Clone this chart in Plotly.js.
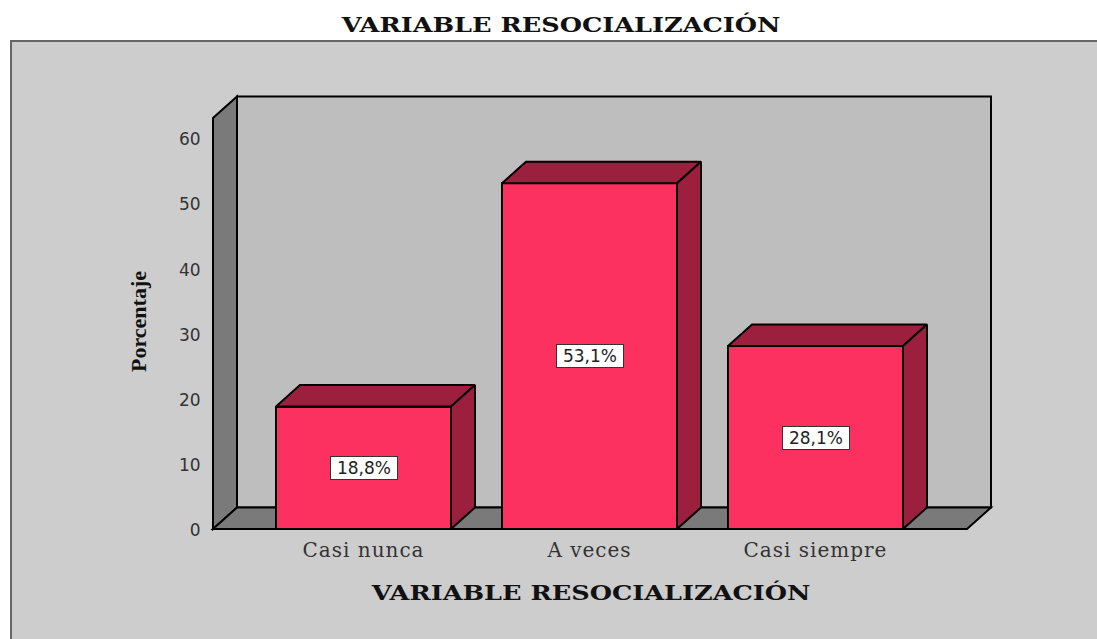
<!DOCTYPE html>
<html>
<head>
<meta charset="utf-8">
<script src="https://cdn.plot.ly/plotly-3.0.1.min.js"></script>
<style>
html,body{margin:0;padding:0;background:#fff;overflow:hidden}
#chart{width:1097px;height:639px}
.gtitle{transform-box:fill-box;transform-origin:center;transform:scaleX(1.218)}
.xtitle{transform-box:fill-box;transform-origin:center;transform:translateX(-11px) scaleX(1.218)}
.ytitle{translate:0 10px}
.xtick text{letter-spacing:1px}
.ytick text{translate:0 1px}
</style>
</head>
<body>
<div id="chart"></div>
<script>
const categories = ["Casi nunca", "A veces", "Casi siempre"];
const values = [18.8, 53.1, 28.1];
const valueLabels = ["18,8%", "53,1%", "28,1%"];
const yTicks = [0, 10, 20, 30, 40, 50, 60];
const chartTitle = "VARIABLE RESOCIALIZACIÓN";
const yTitle = "Porcentaje";

// Scale of the 3D frame
const W = 1097, H = 639;
const unitX = 226, unitY = 6.51, x0Px = 363.5, y0Px = 529;
const depthX = 24 / unitX, depthY = 21.5 / unitY;
const barW = 175 / unitX, halfW = barW / 2;
const wallL = (213 - x0Px) / unitX, wallR = (967 - x0Px) / unitX, wallTop = (529 - 118) / unitY;
const plotL = 208, plotR = 996, plotT = 92, plotB = 531;

const poly = pts => "M" + pts.map(p => p[0] + "," + p[1]).join("L") + "Z";
const wallLine = {color: "#000", width: 2};
const shapes = [
  {type: "rect", layer: "below", xref: "paper", yref: "paper",
   x0: (11 - plotL) / (plotR - plotL), x1: (1110 - plotL) / (plotR - plotL),
   y0: (plotB - 650) / (plotB - plotT), y1: (plotB - 41) / (plotB - plotT),
   fillcolor: "#cdcdcd", line: {color: "#666666", width: 2}},
  {type: "path", layer: "below", xref: "x", yref: "y", fillcolor: "#bebebe", line: wallLine,
   path: poly([[wallL + depthX, depthY], [wallR + depthX, depthY], [wallR + depthX, wallTop + depthY], [wallL + depthX, wallTop + depthY]])},
  {type: "path", layer: "below", xref: "x", yref: "y", fillcolor: "#7a7a7a", line: wallLine,
   path: poly([[wallL, 0], [wallL + depthX, depthY], [wallL + depthX, wallTop + depthY], [wallL, wallTop]])},
  {type: "path", layer: "below", xref: "x", yref: "y", fillcolor: "#7a7a7a", line: wallLine,
   path: poly([[wallL, 0], [wallR, 0], [wallR + depthX, depthY], [wallL + depthX, depthY]])}
];

const traces = [{
  type: "bar", x: categories.map((c, i) => i), y: values, width: barW,
  marker: {color: "#fc3160", line: {color: "#000", width: 2}}, hoverinfo: "skip", showlegend: false
}];
values.forEach((v, i) => {
  const l = i - halfW, r = i + halfW;
  const face = (xs, ys) => ({
    type: "scatter", mode: "lines", x: xs, y: ys, fill: "toself", fillcolor: "#9c203e",
    line: {color: "#000", width: 2}, hoverinfo: "skip", showlegend: false
  });
  traces.push(face([l, r, r + depthX, l + depthX, l], [v, v, v + depthY, v + depthY, v]));
  traces.push(face([r, r + depthX, r + depthX, r, r], [0, depthY, v + depthY, v, 0]));
});

const annotations = values.map((v, i) => ({
  x: i, y: v / 2, xref: "x", yref: "y", text: valueLabels[i], showarrow: false,
  font: {family: "DejaVu Sans", size: 17, color: "#222"}, width: 66, height: 22,
  bgcolor: "#fff", bordercolor: "#333", borderwidth: 1, borderpad: 0
}));

const layout = {
  width: W, height: H, autosize: false,
  paper_bgcolor: "#fff", plot_bgcolor: "rgba(0,0,0,0)",
  margin: {l: plotL, r: W - plotR, t: plotT, b: H - plotB, pad: 0},
  title: {text: chartTitle, x: 561 / W, xref: "container", xanchor: "center",
          y: 1 - 25 / H, yref: "container", yanchor: "middle",
          font: {family: "DejaVu Serif", size: 21, weight: "bold", color: "#111"}},
  xaxis: {range: [(plotL - x0Px) / unitX, (plotR - x0Px) / unitX], tickmode: "array",
          tickvals: categories.map((c, i) => i), ticktext: categories,
          showgrid: false, zeroline: false, showline: false, ticks: "outside", ticklen: 1, tickcolor: "rgba(0,0,0,0)",
          tickfont: {family: "DejaVu Serif", size: 20, color: "#333"},
          title: {text: chartTitle, standoff: 24,
                  font: {family: "DejaVu Serif", size: 21, weight: "bold", color: "#111"}}},
  yaxis: {range: [(y0Px - plotB) / unitY, (y0Px - plotT) / unitY], tickmode: "array",
          tickvals: yTicks, showgrid: false, zeroline: false, showline: false,
          ticks: "outside", ticklen: 3, tickcolor: "rgba(0,0,0,0)",
          tickfont: {family: "DejaVu Sans", size: 17, color: "#333"},
          title: {text: yTitle, standoff: 26,
                  font: {family: "Liberation Serif", size: 22, weight: "bold", color: "#111"}}},
  shapes: shapes, annotations: annotations, showlegend: false, bargap: 0
};
Plotly.newPlot("chart", traces, layout, {displayModeBar: false, responsive: false});
</script>
</body>
</html>
